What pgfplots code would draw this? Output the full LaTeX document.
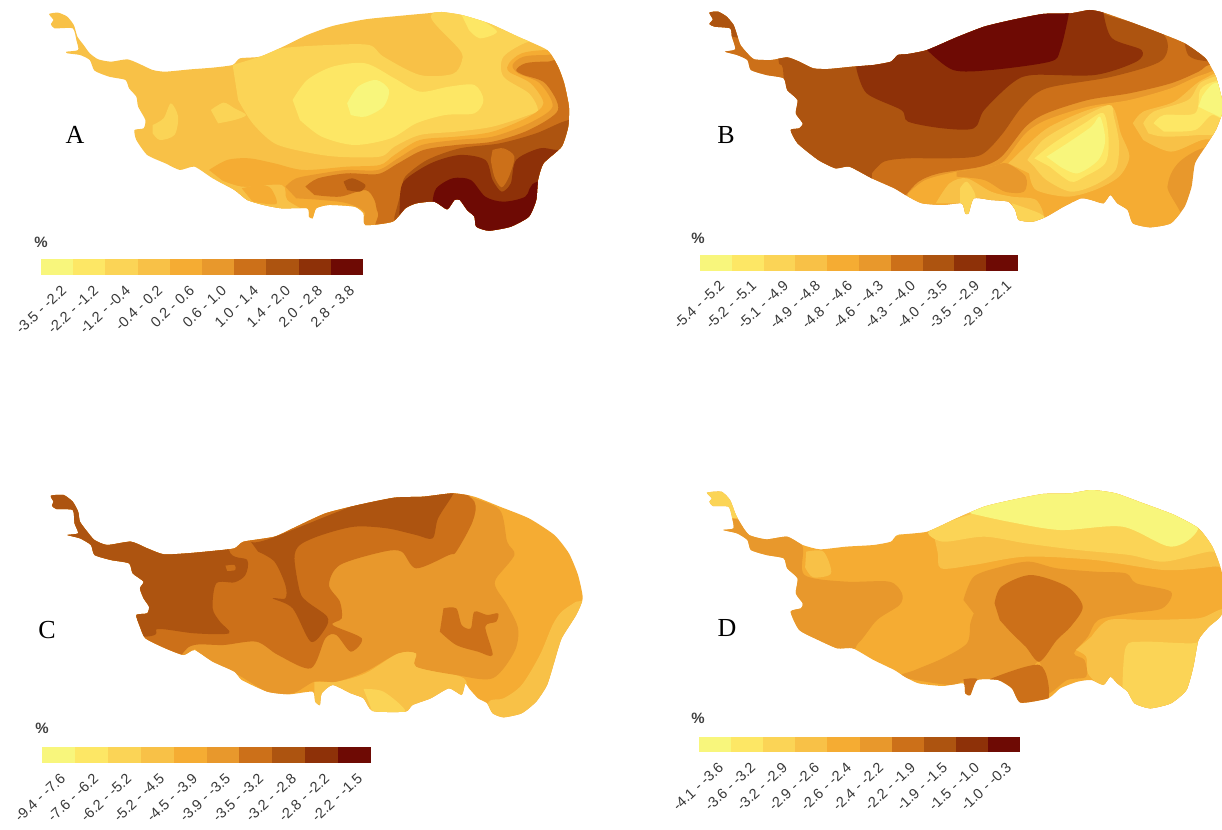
\documentclass[border=0pt]{standalone}
\usepackage{fontspec}
\setmainfont{Liberation Serif}
\newfontfamily\lab{Liberation Sans}
\usepackage{pgfplots}
\pgfplotsset{compat=1.18}
\definecolor{c1}{HTML}{F8F67C}
\definecolor{c2}{HTML}{FDE765}
\definecolor{c3}{HTML}{FBD456}
\definecolor{c4}{HTML}{F8C147}
\definecolor{c5}{HTML}{F5AC33}
\definecolor{c6}{HTML}{E8982C}
\definecolor{c7}{HTML}{CC7019}
\definecolor{c8}{HTML}{AD5410}
\definecolor{c9}{HTML}{8E3108}
\definecolor{c10}{HTML}{6E0A04}
\pgfplotsset{
  mapaxis/.style={scale only axis,hide axis,clip=false,xmin=0,xmax=1568,ymin=0,ymax=720,y dir=reverse,anchor=south west},
  b/.style={draw=none,fill=#1,no markers,forget plot,line width=0pt,sharp plot},
  r/.style={draw=none,fill=#1,no markers,forget plot,line width=0pt,smooth,tension=0.5}
}
\newcommand\lt[3]{\node[anchor=east,rotate=43,inner sep=0pt,text=black!78] at (axis cs:#1,#2) {\lab\fontsize{14.5}{14.5}\selectfont #3};}
\newcommand\cell[5]{\addplot[b=#1] coordinates {(#2,#4)(#3,#4)(#3,#5)(#2,#5)} --cycle;}
\begin{document}
\begin{tikzpicture}[x=1pt,y=1pt]
\path[use as bounding box] (0,0) rectangle (1222,829);
% ---------- MAP A
\begin{axis}[mapaxis,at={(20pt,589pt)},width=570pt,height=240pt]
\begin{scope}
\clip plot[smooth cycle,tension=0.35] coordinates {(80,42)(105,38)(130,50)(148,75)(158,110)(175,135)(192,160)(215,178)(250,185)(295,178)(325,190)(365,210)(400,215)(470,208)(530,203)(585,195)(605,175)(660,170)(720,142)(790,105)(860,78)(950,58)(1040,48)(1120,40)(1160,36)(1215,45)(1290,70)(1370,110)(1450,150)(1480,200)(1497,250)(1510,320)(1508,380)(1490,440)(1440,490)(1425,540)(1420,600)(1400,650)(1350,680)(1290,692)(1255,680)(1250,650)(1230,630)(1210,600)(1195,600)(1175,628)(1140,605)(1090,610)(1060,625)(1025,665)(950,675)(945,640)(920,620)(850,615)(815,625)(805,655)(795,650)(790,625)(720,625)(670,615)(625,600)(590,570)(530,535)(480,500)(440,510)(400,490)(350,465)(320,420)(315,390)(340,385)(345,360)(325,320)(320,290)(300,265)(290,240)(245,230)(205,212)(192,180)(165,165)(130,160)(128,155)(160,150)(155,120)(145,85)(95,85)(85,72)(92,60)};
\addplot[b=c4] coordinates {(0,0)(1600,0)(1600,720)(0,720)} --cycle;
\addplot[r=c3] coordinates {(365,375)(395,355)(415,310)(435,350)(425,405)(385,420)(365,400)} --cycle;
\addplot[r=c3] coordinates {(525,330)(560,308)(590,325)(622,345)(590,360)(545,370)} --cycle;
\addplot[r=c3] coordinates {(585,195)(660,170)(720,145)(850,135)(960,135)(1000,170)(1100,225)(1190,222)(1215,185)(1210,150)(1130,50)(1215,30)(1450,140)(1400,125)(1330,170)(1330,230)(1400,280)(1425,330)(1400,345)(1300,380)(1200,395)(1100,405)(1030,440)(990,470)(870,470)(780,455)(700,430)(640,370)(600,300)} --cycle;
\addplot[r=c2] coordinates {(1215,45)(1260,55)(1312,95)(1265,115)(1235,90)} --cycle;
\addplot[r=c5] coordinates {(520,510)(570,480)(630,475)(700,490)(780,510)(900,500)(990,495)(1030,465)(1100,420)(1200,410)(1300,395)(1400,350)(1440,310)(1405,250)(1345,215)(1345,190)(1380,160)(1450,150)(1600,150)(1600,720)(590,720)(590,570)} --cycle;
\addplot[r=c4] coordinates {(530,530)(610,560)(720,555)(735,600)(790,640)(700,640)(590,590)} --cycle;
\addplot[r=c5] coordinates {(610,565)(660,555)(690,565)(705,612)(640,605)} --cycle;
\addplot[r=c6] coordinates {(730,560)(760,535)(830,520)(900,510)(985,510)(1040,475)(1105,435)(1200,420)(1300,410)(1400,370)(1465,320)(1430,250)(1370,220)(1355,195)(1385,170)(1450,165)(1600,165)(1600,720)(950,720)(950,640)(900,610)(830,600)(760,595)} --cycle;
\addplot[r=c7] coordinates {(785,560)(820,535)(900,520)(985,522)(1040,490)(1110,450)(1200,435)(1300,425)(1400,390)(1480,330)(1445,250)(1385,225)(1365,210)(1390,190)(1450,185)(1600,190)(1600,720)(1025,720)(985,640)(975,600)(950,570)(880,590)(810,585)} --cycle;
\addplot[r=c8] coordinates {(890,545)(915,535)(950,555)(935,575)(900,570)} --cycle;
\addplot[r=c8] coordinates {(1030,650)(1050,570)(1060,530)(1120,480)(1210,445)(1320,430)(1420,400)(1510,360)(1600,360)(1600,720)(1030,720)} --cycle;
\addplot[r=c9] coordinates {(1045,610)(1055,545)(1130,490)(1210,465)(1280,480)(1300,540)(1325,575)(1350,550)(1365,480)(1430,445)(1480,450)(1600,450)(1600,720)(1040,720)} --cycle;
\addplot[r=c7] coordinates {(1295,480)(1305,530)(1325,562)(1345,530)(1360,470)(1330,445)(1300,450)} --cycle;
\addplot[r=c10] coordinates {(1135,605)(1145,565)(1190,535)(1240,540)(1280,590)(1330,605)(1390,590)(1425,545)(1600,545)(1600,720)(1140,720)} --cycle;
\addplot[r=c2] coordinates {(750,300)(790,240)(860,200)(950,190)(1030,235)(1100,275)(1180,260)(1250,255)(1275,300)(1250,340)(1170,345)(1090,370)(1020,415)(920,435)(830,410)(770,360)} --cycle;
\addplot[r=c1] coordinates {(900,310)(930,260)(980,240)(1015,270)(1000,320)(950,350)(910,345)} --cycle;
\end{scope}
\end{axis}
% ---------- MAP B
\begin{axis}[mapaxis,at={(680pt,589pt)},width=542pt,height=240pt]
\begin{scope}
\clip plot[smooth cycle,tension=0.35] coordinates {(85,38)(110,35)(135,50)(155,75)(165,105)(175,135)(195,160)(215,178)(265,180)(310,172)(345,185)(385,205)(430,207)(500,200)(560,195)(610,185)(630,165)(660,162)(715,150)(800,112)(880,80)(960,60)(1050,42)(1130,40)(1185,30)(1225,38)(1300,65)(1390,100)(1460,130)(1520,175)(1550,230)(1568,300)(1568,340)(1550,390)(1520,440)(1490,490)(1480,560)(1460,620)(1420,670)(1360,682)(1310,670)(1295,630)(1265,610)(1245,585)(1225,610)(1190,600)(1160,595)(1110,620)(1060,650)(1020,665)(980,660)(970,630)(950,605)(900,600)(850,595)(835,640)(825,640)(815,610)(760,615)(700,610)(660,590)(620,565)(555,535)(490,500)(450,505)(400,480)(340,430)(320,390)(345,385)(355,370)(335,340)(340,300)(310,270)(300,235)(250,225)(205,210)(195,180)(165,165)(130,155)(160,148)(150,110)(145,85)(100,80)(85,72)(95,58)};
\addplot[b=c6] coordinates {(0,0)(1600,0)(1600,720)(0,720)} --cycle;
\addplot[r=c7] coordinates {(650,590)(690,545)(750,520)(870,500)(930,470)(1000,380)(1060,340)(1180,300)(1300,280)(1420,250)(1500,215)(1530,195)(1600,190)(1600,0)(0,0)(0,720)(600,720)} --cycle;
\addplot[r=c8] coordinates {(555,520)(590,485)(660,475)(780,475)(870,465)(930,405)(990,320)(1060,265)(1250,230)(1395,180)(1395,100)(1225,40)(1225,0)(285,0)(285,180)(300,240)(300,720)(555,720)} --cycle;
\addplot[r=c8] coordinates {(0,0)(170,0)(170,105)(145,110)(0,110)} --cycle;
\addplot[r=c8] coordinates {(1460,130)(1470,165)(1500,180)(1560,180)(1560,110)} --cycle;
\addplot[r=c9] coordinates {(510,205)(540,280)(640,330)(660,365)(760,385)(850,385)(880,330)(960,250)(1020,225)(1200,225)(1320,185)(1335,150)(1250,115)(1225,40)(1225,0)(510,0)} --cycle;
\addplot[r=c10] coordinates {(715,150)(790,210)(900,210)(1070,185)(1100,150)(1125,40)(1125,0)(715,0)} --cycle;
\addplot[r=c5] coordinates {(660,580)(710,540)(800,515)(900,500)(940,480)(1000,400)(1060,360)(1180,320)(1300,300)(1420,265)(1510,225)(1600,215)(1600,440)(1510,445)(1440,490)(1410,560)(1415,720)(650,720)} --cycle;
\addplot[r=c6] coordinates {(800,515)(900,500)(945,490)(1000,530)(995,575)(940,575)(880,540)(800,530)} --cycle;
\addplot[r=c4] coordinates {(740,610)(780,550)(830,535)(900,575)(960,590)(1030,600)(1050,660)(960,660)(900,610)} --cycle;
\addplot[r=c3] coordinates {(810,565)(830,545)(855,590)(835,650)(810,610)} --cycle;
\addplot[r=c3] coordinates {(960,610)(1040,640)(1060,665)(980,668)} --cycle;
\addplot[r=c4] coordinates {(950,490)(1010,430)(1070,380)(1180,330)(1250,320)(1275,400)(1300,470)(1270,530)(1200,570)(1120,590)(1030,570)(1010,520)} --cycle;
\addplot[r=c3] coordinates {(1005,480)(1050,420)(1130,370)(1240,315)(1255,350)(1270,430)(1260,510)(1200,555)(1130,575)(1060,540)(1025,500)} --cycle;
\addplot[r=c2] coordinates {(1025,475)(1080,430)(1170,370)(1225,340)(1240,420)(1230,490)(1170,530)(1130,545)(1070,500)} --cycle;
\addplot[r=c1] coordinates {(1060,470)(1120,430)(1190,380)(1215,350)(1230,420)(1210,480)(1150,520)(1100,500)} --cycle;
\addplot[r=c4] coordinates {(1310,370)(1340,335)(1430,305)(1510,240)(1600,215)(1600,400)(1510,420)(1420,455)(1340,420)} --cycle;
\addplot[r=c3] coordinates {(1340,370)(1370,335)(1470,300)(1510,245)(1600,230)(1600,390)(1500,405)(1400,410)(1355,400)} --cycle;
\addplot[r=c2] coordinates {(1370,370)(1400,345)(1490,340)(1505,270)(1545,245)(1600,245)(1600,370)(1540,345)(1490,390)(1400,395)} --cycle;
\addplot[r=c1] coordinates {(1510,290)(1545,250)(1600,260)(1600,360)(1540,340)(1500,320)} --cycle;
\end{scope}
\end{axis}
% ---------- MAP C
\begin{axis}[mapaxis,at={(20pt,104pt)},width=570pt,height=240pt]
\begin{scope}
\clip plot[smooth cycle,tension=0.35] coordinates {(85,32)(120,30)(145,50)(160,80)(165,110)(185,140)(205,165)(240,180)(305,170)(350,190)(395,208)(460,205)(530,198)(590,190)(615,170)(700,155)(760,125)(840,85)(930,60)(1030,38)(1110,35)(1190,25)(1250,35)(1320,65)(1400,100)(1470,150)(1510,205)(1535,270)(1548,340)(1530,390)(1490,460)(1470,530)(1450,600)(1420,650)(1380,685)(1330,697)(1300,685)(1285,655)(1260,640)(1235,610)(1225,595)(1215,630)(1180,610)(1130,640)(1080,660)(1060,680)(970,678)(945,640)(910,625)(860,600)(830,625)(825,660)(812,650)(805,620)(740,628)(680,620)(610,585)(590,560)(530,530)(480,495)(450,510)(400,490)(345,460)(330,425)(320,390)(350,385)(355,365)(340,340)(330,310)(340,290)(310,265)(300,235)(250,225)(205,210)(195,180)(165,160)(130,150)(160,145)(150,115)(145,75)(100,72)(88,62)(92,50)};
\addplot[b=c5] coordinates {(0,0)(1600,0)(1600,720)(0,720)} --cycle;
\addplot[r=c4] coordinates {(1530,350)(1490,380)(1465,420)(1430,510)(1380,600)(1330,640)(1290,650)(1290,720)(1600,720)(1600,340)} --cycle;
\addplot[r=c4] coordinates {(810,590)(870,590)(950,565)(1040,505)(1090,505)(1090,545)(1200,570)(1230,600)(1220,720)(810,720)} --cycle;
\addplot[r=c3] coordinates {(945,612)(1000,620)(1060,680)(970,682)} --cycle;
\addplot[r=c6] coordinates {(480,490)(530,540)(600,570)(680,620)(750,625)(810,590)(870,590)(950,560)(1040,505)(1090,505)(1090,545)(1200,570)(1300,580)(1360,500)(1370,430)(1340,360)(1310,310)(1310,280)(1360,210)(1340,170)(1320,75)(1240,35)(1190,0)(300,0)(300,720)(400,720)} --cycle;
\addplot[r=c7] coordinates {(1190,0)(1250,50)(1245,110)(1200,200)(1180,210)(1090,250)(1050,200)(1000,200)(880,240)(850,300)(880,350)(885,400)(860,420)(940,460)(910,500)(870,450)(840,460)(800,550)(710,510)(650,470)(560,480)(480,480)(440,515)(300,720)(0,720)(0,0)} --cycle;
\addplot[r=c7] coordinates {(1165,370)(1200,370)(1215,420)(1240,430)(1250,380)(1285,390)(1315,385)(1310,410)(1280,425)(1300,510)(1260,500)(1200,480)(1155,440)} --cycle;
\addplot[r=c8] coordinates {(0,0)(575,0)(575,195)(625,225)(620,270)(590,292)(540,295)(530,370)(550,410)(575,445)(480,445)(380,432)(345,455)(0,455)} --cycle;
\addplot[r=c7] coordinates {(565,242)(590,240)(592,255)(570,258)} --cycle;
\addplot[r=c8] coordinates {(635,170)(690,160)(1000,30)(1195,0)(1190,30)(1150,100)(1135,160)(1090,150)(1010,130)(920,125)(830,150)(770,180)(755,220)(770,320)(790,350)(845,395)(840,430)(800,470)(750,370)(695,340)(730,340)(730,300)(700,230)(655,200)} --cycle;
\end{scope}
\end{axis}
% ---------- MAP D
\begin{axis}[mapaxis,at={(680pt,109pt)},width=542pt,height=240pt]
\begin{scope}
\clip plot[smooth cycle,tension=0.35] coordinates {(78,38)(120,35)(145,60)(160,100)(175,130)(200,165)(250,178)(310,170)(355,195)(405,208)(480,200)(560,195)(610,185)(630,165)(715,155)(800,115)(880,80)(960,60)(1050,42)(1130,40)(1190,30)(1260,40)(1340,70)(1430,105)(1500,145)(1540,200)(1568,280)(1568,400)(1530,440)(1500,480)(1485,560)(1465,630)(1420,670)(1360,685)(1315,670)(1295,635)(1265,610)(1245,590)(1225,615)(1190,600)(1150,605)(1100,625)(1065,655)(985,668)(960,625)(920,600)(860,600)(840,645)(825,640)(820,610)(760,618)(690,610)(650,590)(620,570)(560,540)(500,505)(455,505)(400,480)(345,450)(320,395)(350,385)(355,370)(335,340)(340,295)(310,265)(300,235)(250,225)(205,210)(195,180)(165,160)(125,150)(155,145)(150,110)(140,80)(95,78)(85,65)(92,55)};
\addplot[b=c5] coordinates {(0,0)(1600,0)(1600,720)(0,720)} --cycle;
\addplot[b=c3] coordinates {(0,0)(170,0)(170,115)(150,115)(0,115)} --cycle;
\addplot[r=c6] coordinates {(0,115)(150,115)(310,170)(355,200)(360,285)(480,305)(605,305)(642,340)(635,375)(570,420)(515,490)(460,510)(0,510)} --cycle;
\addplot[r=c4] coordinates {(365,215)(415,215)(437,280)(385,292)(362,262)} --cycle;
\addplot[r=c6] coordinates {(820,360)(850,290)(930,260)(1010,245)(1090,265)(1200,275)(1290,280)(1320,310)(1420,335)(1395,385)(1300,400)(1210,420)(1180,470)(1140,520)(1170,540)(1175,590)(1120,600)(1060,640)(1040,545)(1000,580)(900,600)(830,600)(780,615)(640,590)(680,570)(760,535)(830,490)(840,430)(850,400)} --cycle;
\addplot[r=c7] coordinates {(910,370)(930,320)(1015,285)(1120,320)(1165,380)(1130,440)(1090,480)(1040,545)(1000,500)(960,460)(925,420)} --cycle;
\addplot[r=c7] coordinates {(890,600)(1040,555)(1065,660)(985,672)(955,620)} --cycle;
\addplot[r=c7] coordinates {(820,598)(860,598)(838,650)(825,640)} --cycle;
\addplot[r=c4] coordinates {(620,170)(720,150)(745,215)(755,265)(850,255)(1000,230)(1200,240)(1400,270)(1540,260)(1600,240)(1600,0)(620,0)} --cycle;
\addplot[r=c3] coordinates {(850,100)(720,150)(760,185)(880,170)(1000,190)(1150,210)(1300,225)(1400,245)(1530,215)(1600,215)(1600,0)(850,0)} --cycle;
\addplot[r=c1] coordinates {(840,100)(950,125)(1100,150)(1280,140)(1420,200)(1500,145)(1500,0)(840,0)} --cycle;
\addplot[r=c4] coordinates {(1145,510)(1175,530)(1180,580)(1215,620)(1300,720)(1600,720)(1600,400)(1500,415)(1350,420)(1240,420)(1190,470)} --cycle;
\addplot[r=c4] coordinates {(1225,600)(1225,510)(1260,450)(1340,425)(1530,415)(1600,400)(1600,720)(1250,720)} --cycle;
\addplot[r=c3] coordinates {(1280,620)(1290,500)(1340,485)(1480,490)(1600,480)(1600,720)(1320,720)} --cycle;
\end{scope}
\end{axis}
% ---------- legends and letters
\begin{axis}[scale only axis,hide axis,at={(0pt,0pt)},anchor=south west,width=1222pt,height=829pt,xmin=0,xmax=1222,ymin=0,ymax=829,y dir=reverse,clip=false]
\cell{c1}{41}{73.2}{259}{275}\cell{c2}{73.2}{105.4}{259}{275}\cell{c3}{105.4}{137.6}{259}{275}\cell{c4}{137.6}{169.8}{259}{275}\cell{c5}{169.8}{202}{259}{275}\cell{c6}{202}{234.2}{259}{275}\cell{c7}{234.2}{266.4}{259}{275}\cell{c8}{266.4}{298.6}{259}{275}\cell{c9}{298.6}{330.8}{259}{275}\cell{c10}{330.8}{363}{259}{275}
\cell{c1}{700}{731.8}{255}{271}\cell{c2}{731.8}{763.6}{255}{271}\cell{c3}{763.6}{795.4}{255}{271}\cell{c4}{795.4}{827.2}{255}{271}\cell{c5}{827.2}{859}{255}{271}\cell{c6}{859}{890.8}{255}{271}\cell{c7}{890.8}{922.6}{255}{271}\cell{c8}{922.6}{954.4}{255}{271}\cell{c9}{954.4}{986.2}{255}{271}\cell{c10}{986.2}{1018}{255}{271}
\cell{c1}{42}{74.9}{747}{763}\cell{c2}{74.9}{107.8}{747}{763}\cell{c3}{107.8}{140.7}{747}{763}\cell{c4}{140.7}{173.6}{747}{763}\cell{c5}{173.6}{206.5}{747}{763}\cell{c6}{206.5}{239.4}{747}{763}\cell{c7}{239.4}{272.3}{747}{763}\cell{c8}{272.3}{305.2}{747}{763}\cell{c9}{305.2}{338.1}{747}{763}\cell{c10}{338.1}{371}{747}{763}
\cell{c1}{699}{731.1}{737}{752}\cell{c2}{731.1}{763.2}{737}{752}\cell{c3}{763.2}{795.3}{737}{752}\cell{c4}{795.3}{827.4}{737}{752}\cell{c5}{827.4}{859.5}{737}{752}\cell{c6}{859.5}{891.6}{737}{752}\cell{c7}{891.6}{923.7}{737}{752}\cell{c8}{923.7}{955.8}{737}{752}\cell{c9}{955.8}{987.9}{737}{752}\cell{c10}{987.9}{1020}{737}{752}
\node[text=black] at (axis cs:75,135) {\fontsize{26}{26}\selectfont A};
\node[text=black] at (axis cs:726,135) {\fontsize{26}{26}\selectfont B};
\node[text=black] at (axis cs:47,630) {\fontsize{26}{26}\selectfont C};
\node[text=black] at (axis cs:727,628) {\fontsize{26}{26}\selectfont D};
\node[text=black!75] at (axis cs:41,242) {\lab\fontsize{15}{15}\selectfont\bfseries \%};
\node[text=black!75] at (axis cs:698,238) {\lab\fontsize{15}{15}\selectfont\bfseries \%};
\node[text=black!75] at (axis cs:42,728) {\lab\fontsize{15}{15}\selectfont\bfseries \%};
\node[text=black!75] at (axis cs:698,718) {\lab\fontsize{15}{15}\selectfont\bfseries \%};
\lt{64}{288}{-3.5 - -2.2}\lt{96}{288}{-2.2 - -1.2}\lt{128}{288}{-1.2 - -0.4}\lt{160}{288}{-0.4 - 0.2}\lt{192}{288}{0.2 - 0.6}\lt{224}{288}{0.6 - 1.0}\lt{256}{288}{1.0 - 1.4}\lt{288}{288}{1.4 - 2.0}\lt{320}{288}{2.0 - 2.8}\lt{352}{288}{2.8 - 3.8}
\lt{722}{283}{-5.4 - -5.2}\lt{754}{283}{-5.2 - -5.1}\lt{786}{283}{-5.1 - -4.9}\lt{818}{283}{-4.9 - -4.8}\lt{850}{283}{-4.8 - -4.6}\lt{881}{283}{-4.6 - -4.3}\lt{913}{283}{-4.3 - -4.0}\lt{945}{283}{-4.0 - -3.5}\lt{977}{283}{-3.5 - -2.9}\lt{1009}{283}{-2.9 - -2.1}
\lt{63}{776}{-9.4 - -7.6}\lt{96}{776}{-7.6 - -6.2}\lt{129}{776}{-6.2 - -5.2}\lt{162}{776}{-5.2 - -4.5}\lt{195}{776}{-4.5 - -3.9}\lt{228}{776}{-3.9 - -3.5}\lt{261}{776}{-3.5 - -3.2}\lt{294}{776}{-3.2 - -2.8}\lt{327}{776}{-2.8 - -2.2}\lt{360}{776}{-2.2 - -1.5}
\lt{721}{765}{-4.1 - -3.6}\lt{753}{765}{-3.6 - -3.2}\lt{785}{765}{-3.2 - -2.9}\lt{817}{765}{-2.9 - -2.6}\lt{849}{765}{-2.6 - -2.4}\lt{881}{765}{-2.4 - -2.2}\lt{913}{765}{-2.2 - -1.9}\lt{945}{765}{-1.9 - -1.5}\lt{977}{765}{-1.5 - -1.0}\lt{1009}{765}{-1.0 - -0.3}
\end{axis}
\end{tikzpicture}
\end{document}
